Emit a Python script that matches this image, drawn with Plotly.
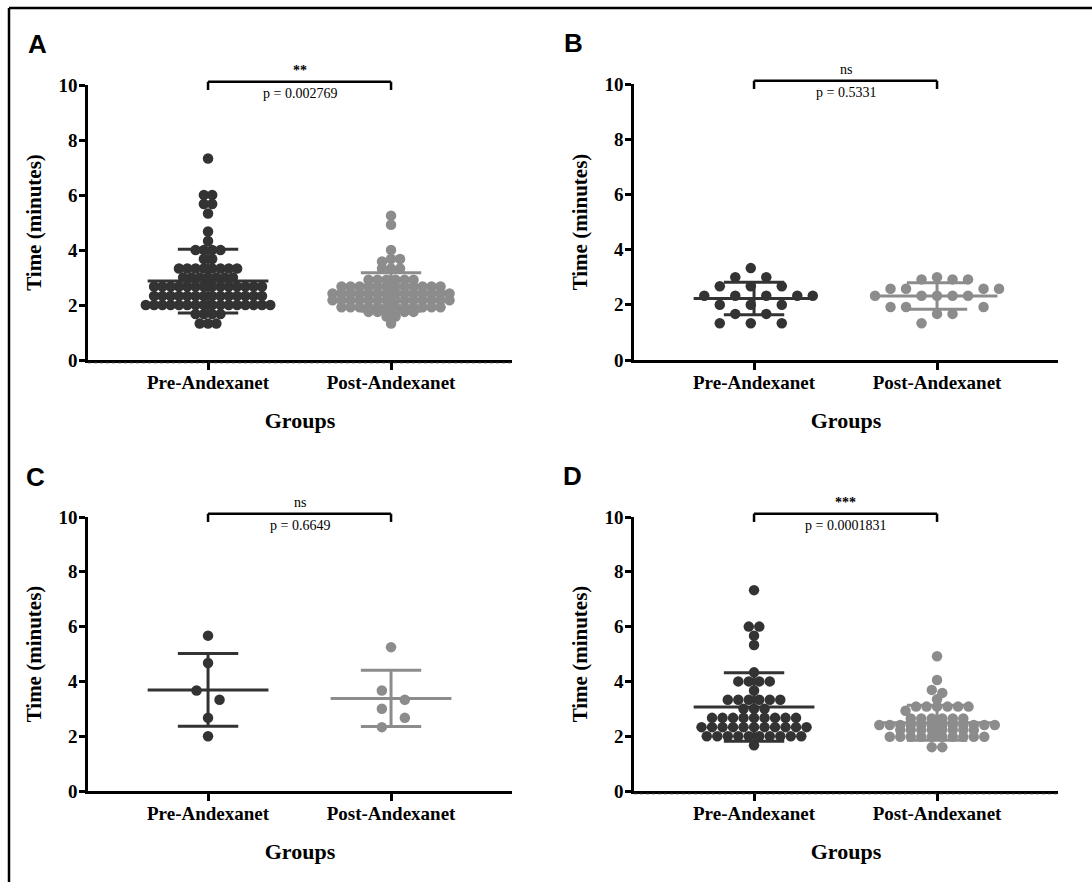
import plotly.graph_objects as go

# ---------------- data ----------------
groups = ["Pre-Andexanet", "Post-Andexanet"]
panel_letters = ["A", "B", "C", "D"]
y_ticks = [0, 2, 4, 6, 8, 10]

a_pre = [7.33, 6.0, 6.0, 5.67, 5.67, 5.33, 4.67, 4.33, 4.0, 4.0, 4.0, 4.0, 3.67, 3.67,
         3.33, 3.33, 3.33, 3.33, 3.33, 3.33, 3.33, 3.33,
         3.0, 3.0, 3.0, 3.0, 3.0, 3.0, 3.0,
         2.67, 2.67, 2.67, 2.67, 2.67, 2.67, 2.67, 2.67, 2.67, 2.67, 2.67, 2.67, 2.67, 2.67,
         2.33, 2.33, 2.33, 2.33, 2.33, 2.33, 2.33, 2.33, 2.33, 2.33, 2.33, 2.33, 2.33, 2.33,
         2.0, 2.0, 2.0, 2.0, 2.0, 2.0, 2.0, 2.0, 2.0, 2.0, 2.0, 2.0, 2.0, 2.0, 2.0, 2.0,
         1.67, 1.67, 1.67, 1.67, 1.33, 1.33, 1.33]
a_post = [5.25, 4.92, 4.0, 3.67, 3.67, 3.58, 3.33, 3.33, 3.33,
          2.92, 2.92, 2.92, 2.92, 2.92, 2.92,
          2.67, 2.67, 2.67, 2.67, 2.67, 2.67, 2.67, 2.67, 2.67, 2.67, 2.67, 2.67,
          2.42, 2.42, 2.42, 2.42, 2.42, 2.42, 2.42, 2.42, 2.42, 2.42, 2.42, 2.42, 2.42, 2.42,
          2.17, 2.17, 2.17, 2.17, 2.17, 2.17, 2.17, 2.17, 2.17, 2.17, 2.17, 2.17, 2.17, 2.17,
          1.92, 1.92, 1.92, 1.92, 1.92, 1.92, 1.92, 1.92, 1.92, 1.92, 1.92, 1.92,
          1.75, 1.75, 1.75, 1.75, 1.75, 1.75, 1.58, 1.58, 1.33]

b_pre = [3.33, 3.0, 3.0, 2.67, 2.67, 2.67, 2.33, 2.33, 2.33, 2.33, 2.33,
         2.0, 2.0, 2.0, 1.67, 1.67, 1.33, 1.33, 1.33]
b_post = [3.0, 2.92, 2.92, 2.92, 2.58, 2.58, 2.58, 2.58, 2.33, 2.33, 2.33, 2.33, 2.33,
          1.92, 1.92, 1.92, 1.67, 1.67, 1.33]

c_pre = [5.67, 4.67, 3.67, 3.33, 2.67, 2.0]
c_post = [5.25, 3.67, 3.33, 3.0, 2.67, 2.33]

d_pre = [7.33, 6.0, 6.0, 5.67, 5.33, 4.33, 4.0, 4.0, 4.0, 4.0, 3.67,
         3.33, 3.33, 3.33, 3.33, 3.33, 3.33, 3.0, 3.0, 3.0,
         2.67, 2.67, 2.67, 2.67, 2.67, 2.67, 2.67, 2.67, 2.67,
         2.33, 2.33, 2.33, 2.33, 2.33, 2.33, 2.33, 2.33, 2.33, 2.33, 2.33,
         2.0, 2.0, 2.0, 2.0, 2.0, 2.0, 2.0, 2.0, 2.0, 2.0, 1.67]
d_post = [4.92, 4.05, 3.69, 3.58, 3.35, 3.08, 3.08, 3.08, 3.08, 3.08, 3.08, 2.93,
          2.65, 2.65, 2.65, 2.65, 2.65, 2.65,
          2.41, 2.41, 2.41, 2.41, 2.41, 2.41, 2.41, 2.41, 2.41, 2.41, 2.41, 2.41,
          2.23, 2.23, 2.23, 2.23, 2.23, 2.23, 2.23, 2.23,
          1.98, 1.98, 1.98, 1.98, 1.98, 1.98, 1.98, 1.98, 1.98, 1.98, 1.6, 1.6]

# mean and SD (pre, post)
a_mean = [2.87, 2.47]; a_sd = [1.16, 0.70]
b_mean = [2.23, 2.32]; b_sd = [0.59, 0.48]
c_mean = [3.69, 3.38]; c_sd = [1.33, 1.03]
d_mean = [3.07, 2.49]; d_sd = [1.25, 0.64]

stars = ["**", "ns", "ns", "***"]
p_texts = ["p = 0.002769", "p = 0.5331", "p = 0.6649", "p = 0.0001831"]

# ---------------- style / layout ----------------
W, H = 1092, 882
PRE_COL = "#333333"
POST_COL = "#8c8c8c"
SERIF = "Liberation Serif"
XRANGE = [-0.656, 1.661]

# swarm spacing per group: (horizontal slot px, vertical collision px)
panels = [
    dict(pre=a_pre, post=a_post, mean=a_mean, sd=a_sd, xpx=(88, 512), ypx=(85, 360),
         lab=(37, 44), dotted=True, swarm=[(8.3, 8.0), (9.0, 4.5)]),
    dict(pre=b_pre, post=b_post, mean=b_mean, sd=b_sd, xpx=(634, 1058), ypx=(84, 360),
         lab=(573, 43), dotted=False, swarm=[(15.5, 12.0), (15.5, 12.0)]),
    dict(pre=c_pre, post=c_post, mean=c_mean, sd=c_sd, xpx=(88, 512), ypx=(517, 791),
         lab=(35, 477), dotted=False, swarm=[(23.0, 12.0), (23.0, 12.0)]),
    dict(pre=d_pre, post=d_post, mean=d_mean, sd=d_sd, xpx=(634, 1058), ypx=(517, 791),
         lab=(572, 476), dotted=True, swarm=[(10.5, 8.0), (10.5, 4.5)]),
]


def swarm_offsets(vals, sx, gy, px_x, px_y):
    """Slot beeswarm: points closer than gy px vertically may not share a
    horizontal slot (sx px wide). Each connected cluster is re-centred."""
    n = len(vals)
    order = sorted(range(n), key=lambda i: -vals[i])
    step = sx / 2.0
    placed = []
    off = [0.0] * n
    for i in order:
        y = vals[i] * px_y
        k = 0
        ok_x = None
        while ok_x is None:
            cands = [0.0] if k == 0 else [k * step, -k * step]
            for cx in cands:
                if all(abs(y - py) >= gy - 1e-6 or abs(cx - px) >= sx - 1e-6 for px, py in placed):
                    ok_x = cx
                    break
            k += 1
        placed.append((ok_x, y))
        off[i] = ok_x
    clusters = []
    cur = [order[0]]
    for a, b in zip(order[:-1], order[1:]):
        if (vals[a] - vals[b]) * px_y < gy:
            cur.append(b)
        else:
            clusters.append(cur)
            cur = [b]
    clusters.append(cur)
    for cl in clusters:
        m = sum(off[i] for i in cl) / len(cl)
        for i in cl:
            off[i] -= m
    return [o / px_x for o in off]


fig = go.Figure()
shapes = []
annotations = []
layout_axes = {}

for idx, p in enumerate(panels):
    sfx = "" if idx == 0 else str(idx + 1)
    xr, yr = "x" + sfx, "y" + sfx
    xdom = [p["xpx"][0] / W, p["xpx"][1] / W]
    ydom = [1 - p["ypx"][1] / H, 1 - p["ypx"][0] / H]
    px_x = (p["xpx"][1] - p["xpx"][0]) / (XRANGE[1] - XRANGE[0])
    px_y = (p["ypx"][1] - p["ypx"][0]) / 10.0

    for g, (vals, col) in enumerate([(p["pre"], PRE_COL), (p["post"], POST_COL)]):
        sx, gy = p["swarm"][g]
        offs = swarm_offsets(vals, sx, gy, px_x, px_y)
        fig.add_trace(go.Scatter(
            x=[g + o for o in offs], y=vals, mode="markers", xaxis=xr, yaxis=yr,
            marker=dict(size=10.5, color=col, line=dict(width=0)),
            showlegend=False, hoverinfo="y", cliponaxis=False))
        m, s = p["mean"][g], p["sd"][g]
        hw, cw = 0.33, 0.165
        fig.add_trace(go.Scatter(
            x=[g - hw, g + hw, None, g, g, None, g - cw, g + cw, None, g - cw, g + cw],
            y=[m, m, None, m - s, m + s, None, m + s, m + s, None, m - s, m - s],
            mode="lines", xaxis=xr, yaxis=yr, line=dict(color=col, width=3),
            showlegend=False, hoverinfo="skip"))

    # significance bracket
    ydref = yr + " domain"
    for (x0, y0, x1, y1) in [(0, 1.012, 1, 1.012), (0, 1.012, 0, 0.982), (1, 1.012, 1, 0.982)]:
        shapes.append(dict(type="line", xref=xr, yref=ydref, x0=x0, x1=x1, y0=y0, y1=y1,
                           line=dict(color="black", width=2.5)))
    if p["dotted"]:
        shapes.append(dict(type="line", xref=xr + " domain", yref=ydref, x0=0, x1=1,
                           y0=-0.009, y1=-0.009, line=dict(color="#222", width=1.5, dash="dot")))
    bold_star = stars[idx] != "ns"
    annotations.append(dict(xref=xr, yref=ydref, x=0.5, y=1.052, text=stars[idx], showarrow=False,
                            xanchor="center", yanchor="middle",
                            font=dict(family=SERIF, size=14, color="black",
                                      weight="bold" if bold_star else "normal")))
    annotations.append(dict(xref=xr, yref=ydref, x=0.5, y=0.968, text=p_texts[idx], showarrow=False,
                            xanchor="center", yanchor="middle",
                            font=dict(family=SERIF, size=14, color="black")))
    annotations.append(dict(xref="paper", yref="paper", x=p["lab"][0] / W, y=1 - p["lab"][1] / H,
                            text=panel_letters[idx], showarrow=False, xanchor="center",
                            yanchor="middle",
                            font=dict(family="Liberation Sans", size=26, color="black",
                                      weight="bold")))

    layout_axes["xaxis" + sfx] = dict(
        domain=xdom, range=XRANGE, anchor=yr, tickvals=[0, 1], ticktext=groups,
        showline=True, linecolor="black", linewidth=2.5, ticks="outside", ticklen=7,
        tickwidth=2.5, tickcolor="black", showgrid=False, zeroline=False, automargin=False,
        ticklabelstandoff=-4,
        tickfont=dict(family=SERIF, size=19, color="black", weight="bold"),
        title=dict(text="Groups", standoff=22,
                   font=dict(family=SERIF, size=22, color="black", weight="bold")),
        fixedrange=True)
    layout_axes["yaxis" + sfx] = dict(
        domain=ydom, range=[0, 10], anchor=xr, tickvals=y_ticks,
        showline=True, linecolor="black", linewidth=2.5, ticks="outside", ticklen=6,
        tickwidth=2.5, tickcolor="black", showgrid=False, zeroline=False, automargin=False,
        ticklabelstandoff=-2,
        tickfont=dict(family=SERIF, size=19, color="black", weight="bold"),
        title=dict(text="Time (minutes)", standoff=12,
                   font=dict(family=SERIF, size=21, color="black", weight="bold")),
        fixedrange=True)

# figure frame (left and top rules)
shapes.append(dict(type="line", xref="paper", yref="paper", x0=9 / W, x1=9 / W, y0=0, y1=1 - 8 / H,
                   line=dict(color="black", width=2.5)))
shapes.append(dict(type="line", xref="paper", yref="paper", x0=9 / W, x1=1, y0=1 - 8 / H, y1=1 - 8 / H,
                   line=dict(color="black", width=2.5)))

fig.update_layout(
    width=W, height=H, margin=dict(l=0, r=0, t=0, b=0, autoexpand=False),
    paper_bgcolor="white", plot_bgcolor="white",
    shapes=shapes, annotations=annotations, showlegend=False,
    **layout_axes)

fig.write_html("out.html", config={"displayModeBar": False},
               post_script="document.body.style.margin='0px';document.body.style.overflow='hidden';")
